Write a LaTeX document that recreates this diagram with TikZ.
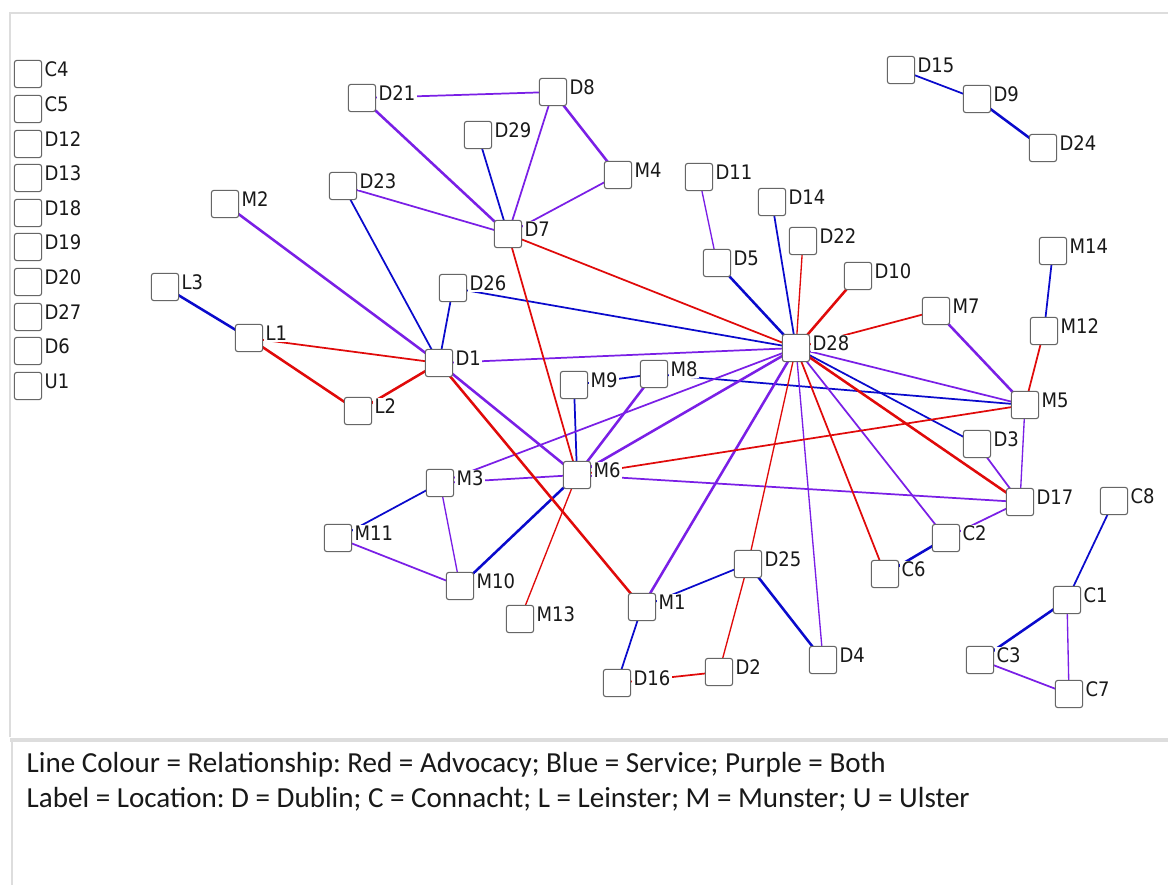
\documentclass[tikz,border=0pt]{standalone}
\usepackage{fontspec}
\setmainfont{Carlito}
\newfontfamily\netfont{DejaVu Sans Condensed}
\usetikzlibrary{backgrounds}
\definecolor{adv}{HTML}{E00A0A}
\definecolor{svc}{HTML}{0A0ACC}
\definecolor{both}{HTML}{7A1FE6}
\definecolor{panel}{HTML}{DDDDDD}
\definecolor{boxline}{HTML}{666666}
\frenchspacing

% actor box with its name tag just right of the box
\newcommand\actor[4]{%
  \node[tag] (#1-t) at ({#2+15},{#3+2.5}) {#4};
  \node[actor] (#1) at (#2,#3) {};}

\begin{document}
\begin{tikzpicture}[x=0.75pt,y=-0.75pt,
  actor/.style={draw=boxline, line width=0.8pt, fill=white, rounded corners=2pt,
    minimum size=20.5pt, inner sep=0pt},
  tag/.style={fill=white, inner xsep=1pt, inner ysep=0.8pt, anchor=base west,
    font=\netfont\fontsize{15}{15}\selectfont, text=black!90},
  mid/.style={line width=1.3pt},
  heavy/.style={line width=1.9pt},
  thin/.style={line width=1.0pt},
  advocacy/.style={draw=adv},
  service/.style={draw=svc},
  bothrel/.style={draw=both},
  legend/.style={anchor=base west, font=\fontsize{21.8}{26}\selectfont, text=black!90}]

\useasboundingbox (0,0) rectangle (1168,885);

% isolates
\actor{C4}{28}{74}{C4}
\actor{C5}{28}{109}{C5}
\actor{D12}{28}{144}{D12}
\actor{D13}{28}{178}{D13}
\actor{D18}{28}{213}{D18}
\actor{D19}{28}{247}{D19}
\actor{D20}{28}{282}{D20}
\actor{D27}{28}{317}{D27}
\actor{D6}{28}{351}{D6}
\actor{U1}{28}{386}{U1}

% connected actors
\actor{D21}{362}{98}{D21}
\actor{D23}{343}{186}{D23}
\actor{M2}{225}{204}{M2}
\actor{L3}{165}{287}{L3}
\actor{L1}{249}{338}{L1}
\actor{L2}{358}{411}{L2}
\actor{D8}{553}{92}{D8}
\actor{D29}{478}{135}{D29}
\actor{M4}{618}{175}{M4}
\actor{D11}{699}{177}{D11}
\actor{D14}{772}{202}{D14}
\actor{D7}{508}{234}{D7}
\actor{D5}{717}{263}{D5}
\actor{D26}{453}{288}{D26}
\actor{D1}{439}{363}{D1}
\actor{M9}{574}{385}{M9}
\actor{M8}{654}{374}{M8}
\actor{D28}{796}{348}{D28}
\actor{D22}{803}{241}{D22}
\actor{D15}{901}{70}{D15}
\actor{D9}{977}{99}{D9}
\actor{D24}{1043}{148}{D24}
\actor{D10}{858}{276}{D10}
\actor{M7}{936}{311}{M7}
\actor{M14}{1053}{251}{M14}
\actor{M12}{1044}{331}{M12}
\actor{M5}{1025}{405}{M5}
\actor{D3}{977}{444}{D3}
\actor{D17}{1020}{502}{D17}
\actor{C8}{1114}{501}{C8}
\actor{C2}{946}{538}{C2}
\actor{C6}{885}{574}{C6}
\actor{C1}{1067}{600}{C1}
\actor{D4}{823}{660}{D4}
\actor{C3}{980}{660}{C3}
\actor{C7}{1069}{694}{C7}
\actor{M3}{440}{483}{M3}
\actor{M6}{577}{475}{M6}
\actor{M10}{460}{586}{M10}
\actor{M13}{520}{619}{M13}
\actor{M1}{642}{607}{M1}
\actor{D25}{748}{564}{D25}
\actor{D16}{617}{683}{D16}
\actor{D2}{719}{672}{D2}
\actor{M11}{338}{538}{M11}

% legend
\node[legend] (leg1) at (22,772) {Line Colour = Relationship: Red = Advocacy; Blue = Service; Purple = Both};
\node[legend] (leg2) at (22,807) {Label = Location: D = Dublin; C = Connacht; L = Leinster; M = Munster; U = Ulster};

\begin{scope}[on background layer]
  \fill[white] (0,0) rectangle (1168,885);
  % panel borders
  \draw[panel, line width=1.5pt] (1168,13) -- (9.5,13) -- (9.5,737);
  \draw[panel, line width=3pt] (10,739.5) -- (1168,739.5);
  \draw[panel, line width=1.5pt] (12,741) -- (12,885);

  % service ties
  \foreach \a/\b/\w in {L3/L1/heavy, D15/D9/mid, D9/D24/heavy, D29/D7/mid,
      D23/D1/mid, D26/D1/mid, D26/D28/mid, D5/D28/heavy, D14/D28/mid,
      M14/M12/mid, M9/M8/mid, M9/M6/mid, M8/M5/mid, D28/D3/mid, M3/M11/mid,
      M6/M10/heavy, M1/D16/mid, M1/D25/mid, D25/D4/heavy, C8/C1/mid,
      C1/C3/heavy, C2/C6/heavy}
    \draw[service,\w] (\a.center) -- (\b.center);

  % ties of both kinds
  \foreach \a/\b/\w in {D21/D8/mid, D21/D7/heavy, D8/D7/mid, D8/M4/heavy,
      M4/D7/mid, D23/D7/mid, M2/D1/heavy, D11/D5/thin, D1/D28/mid,
      D1/M6/heavy, M7/M5/heavy, M5/D17/thin, D3/D17/mid, D17/C2/mid,
      D28/M5/mid, D28/M3/mid, D28/M6/heavy, M8/M6/heavy, M3/M6/mid,
      M6/D17/mid, M3/M10/thin, M11/M10/mid, D28/M1/heavy, D28/D4/thin,
      D28/C2/mid, C1/C7/thin, C3/C7/mid}
    \draw[bothrel,\w] (\a.center) -- (\b.center);

  % advocacy ties
  \foreach \a/\b/\w in {L1/D1/mid, L1/L2/heavy, L2/D1/heavy, D7/D28/mid,
      D7/M6/mid, D1/M1/heavy, M6/M13/thin, D22/D28/thin, D10/D28/heavy,
      M7/D28/mid, M12/M5/mid, D28/D17/heavy, M6/M5/mid, D28/D25/thin,
      D25/D2/thin, D16/D2/mid, D28/C6/mid}
    \draw[advocacy,\w] (\a.center) -- (\b.center);
\end{scope}
\end{tikzpicture}
\end{document}
